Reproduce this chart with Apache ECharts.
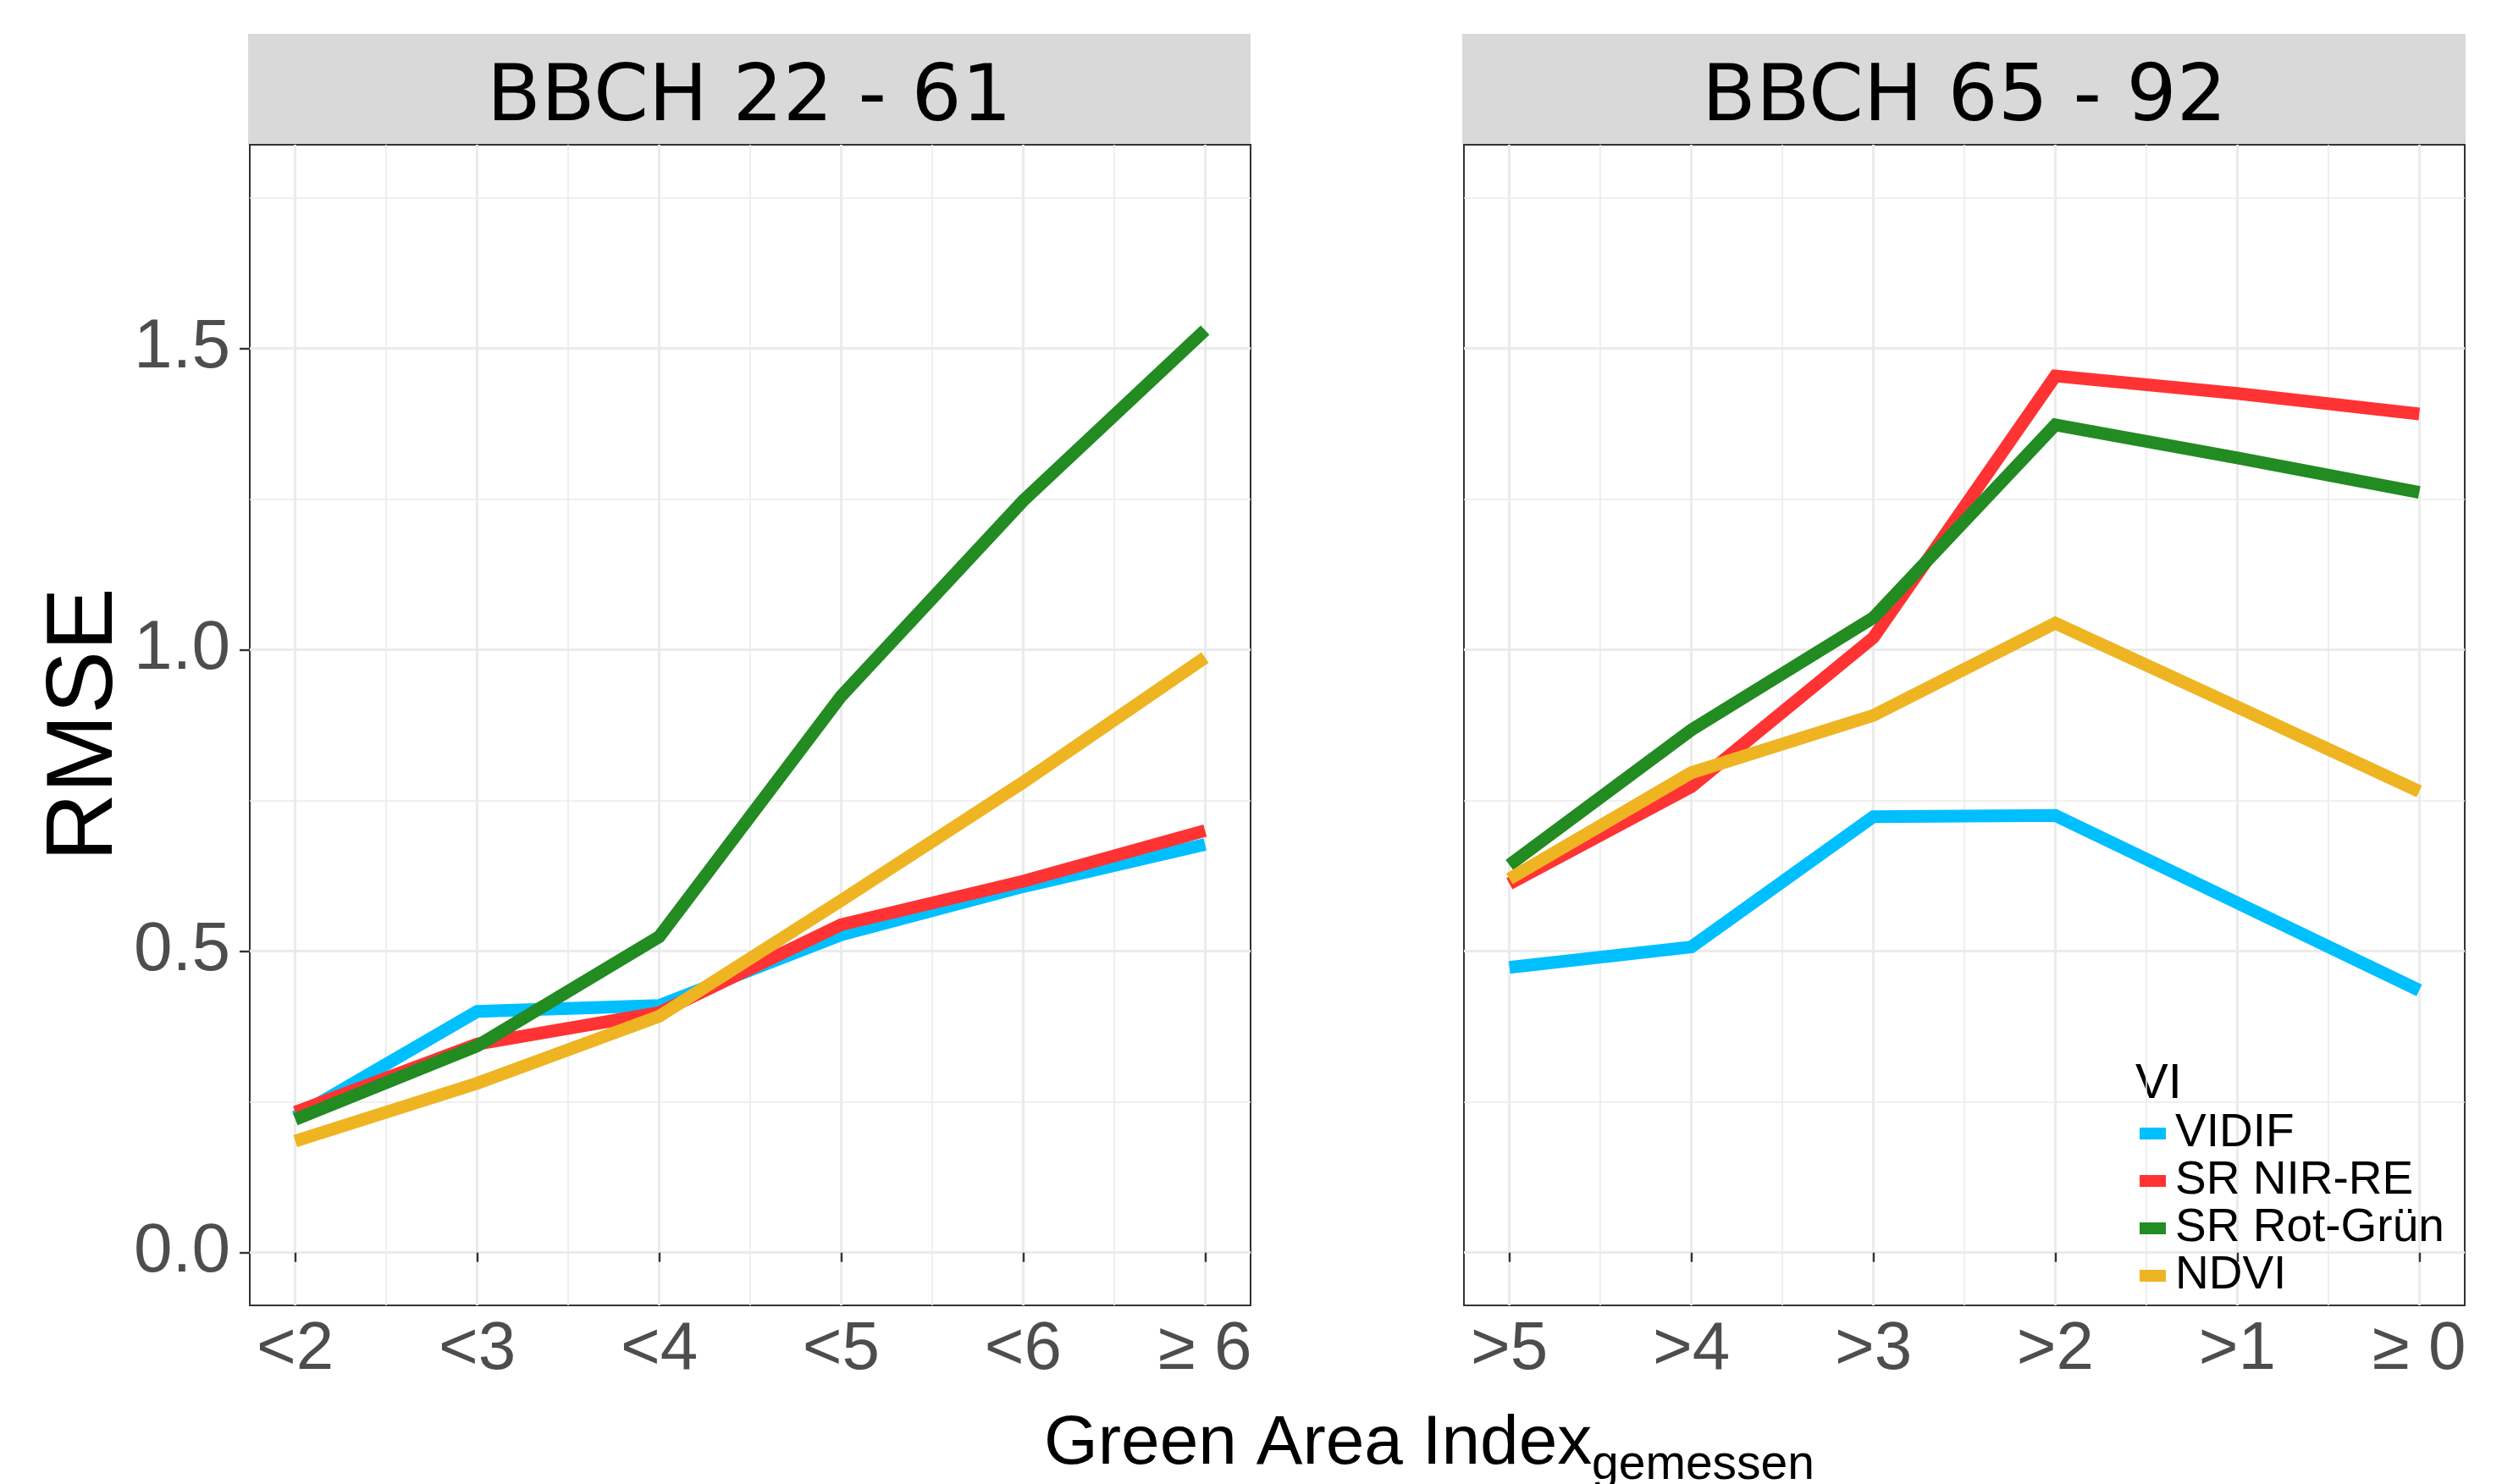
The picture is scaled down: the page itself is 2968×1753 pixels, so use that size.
<!DOCTYPE html>
<html>
<head>
<meta charset="utf-8">
<script src="https://cdn.jsdelivr.net/npm/echarts@6/dist/echarts.min.js"></script>
<style>
html,body{margin:0;padding:0;background:#fff;}
#chart{width:2968px;height:1753px;}
</style>
</head>
<body>
<div id="chart"></div>
<script>
// ---- data ----
const seriesNames = ['VIDIF', 'SR NIR-RE', 'SR Rot-Grün', 'NDVI'];
const seriesColors = ['#00BFFF', '#FF3333', '#228B22', '#EEB422'];
const panelTitles = ['BBCH 22 - 61', 'BBCH 65 - 92'];
const catsLeft = ['<2', '<3', '<4', '<5', '<6', '≥ 6'];
const catsRight = ['>5', '>4', '>3', '>2', '>1', '≥ 0'];

const leftVIDIF   = [0.225, 0.400, 0.410, 0.527, 0.607, 0.677];
const leftNIRRE   = [0.233, 0.346, 0.398, 0.544, 0.616, 0.700];
const leftRotGruen= [0.221, 0.343, 0.524, 0.923, 1.247, 1.530];
const leftNDVI    = [0.185, 0.281, 0.392, 0.584, 0.780, 0.987];

const rightVIDIF   = [0.473, 0.507, 0.723, 0.725, 0.580, 0.435];
const rightNIRRE   = [0.612, 0.773, 1.020, 1.454, 1.425, 1.391];
const rightRotGruen= [0.643, 0.867, 1.053, 1.373, 1.318, 1.261];
const rightNDVI    = [0.620, 0.796, 0.891, 1.044, 0.905, 0.765];

const yTicks = [0, 0.5, 1.0, 1.5];
const yMinor = [0.25, 0.75, 1.25, 1.75];
const xTicks = [1, 2, 3, 4, 5, 6];
const xMinor = [1.5, 2.5, 3.5, 4.5, 5.5];

// ---- build ----
const FONT = 'Liberation Sans, Arial, sans-serif';
const gridColor = '#EBEBEB';
const yMin = -0.0875, yMax = 1.8375;
const xMin = 0.75, xMax = 6.25;

function majorX(gridIndex, cats) {
  return {
    type: 'value', gridIndex, min: xMin, max: xMax, position: 'bottom',
    axisLine: { show: false },
    axisTick: { show: true, length: 11, customValues: xTicks, lineStyle: { color: '#333333', width: 2.4 } },
    axisLabel: { show: true, customValues: xTicks, margin: 13, fontSize: 80, fontFamily: FONT, color: '#4D4D4D',
      formatter: v => cats[Math.round(v) - 1] },
    splitLine: { show: true, lineStyle: { color: gridColor, width: 3 } }
  };
}
function minorX(gridIndex) {
  return {
    type: 'value', gridIndex, min: xMin, max: xMax, position: 'top',
    axisLine: { show: false },
    axisTick: { show: false, customValues: xMinor },
    axisLabel: { show: false, customValues: xMinor },
    splitLine: { show: true, lineStyle: { color: gridColor, width: 1.6 } }
  };
}
function majorY(gridIndex, showLabels) {
  return {
    type: 'value', gridIndex, min: yMin, max: yMax, position: 'left',
    axisLine: { show: false },
    axisTick: { show: showLabels, length: 12, customValues: yTicks, lineStyle: { color: '#333333', width: 2.4 } },
    axisLabel: { show: showLabels, customValues: yTicks, margin: 23, fontSize: 82, fontFamily: FONT, color: '#4D4D4D',
      formatter: v => v.toFixed(1) },
    splitLine: { show: true, lineStyle: { color: gridColor, width: 3 } }
  };
}
function minorY(gridIndex) {
  return {
    type: 'value', gridIndex, min: yMin, max: yMax, position: 'right',
    axisLine: { show: false },
    axisTick: { show: false, customValues: yMinor },
    axisLabel: { show: false, customValues: yMinor },
    splitLine: { show: true, lineStyle: { color: gridColor, width: 1.6 } }
  };
}

const leftData = [leftVIDIF, leftNIRRE, leftRotGruen, leftNDVI];
const rightData = [rightVIDIF, rightNIRRE, rightRotGruen, rightNDVI];

const series = [];
[[leftData, 0], [rightData, 1]].forEach(([arrs, gi]) => {
  arrs.forEach((vals, k) => {
    series.push({
      type: 'line', name: seriesNames[k], xAxisIndex: gi, yAxisIndex: gi,
      data: vals.map((v, i) => [xTicks[i], v]),
      showSymbol: false, symbol: 'none', smooth: false,
      lineStyle: { color: seriesColors[k], width: 15, cap: 'butt', join: 'miter' },
      itemStyle: { color: seriesColors[k] },
      z: 3 + k
    });
  });
});

const option = {
  backgroundColor: '#ffffff',
  animation: false,
  grid: [
    { left: 295, top: 171, width: 1182, height: 1371, show: true, borderColor: '#333333', borderWidth: 2, backgroundColor: 'transparent' },
    { left: 1729, top: 171, width: 1182, height: 1371, show: true, borderColor: '#333333', borderWidth: 2, backgroundColor: 'transparent' }
  ],
  xAxis: [majorX(0, catsLeft), majorX(1, catsRight), minorX(0), minorX(1)],
  yAxis: [majorY(0, true), majorY(1, false), minorY(0), minorY(1)],
  legend: {
    data: seriesNames, orient: 'vertical', left: 2527, top: 1311,
    itemWidth: 31, itemHeight: 14, itemGap: 0, icon: 'rect', padding: 0,
    textStyle: { fontSize: 55, fontFamily: FONT, color: '#000000', lineHeight: 56, padding: [0, 0, 0, 6] }
  },
  graphic: [
    { type: 'rect', shape: { x: 293, y: 40, width: 1184, height: 131 }, style: { fill: '#D9D9D9' }, z: -1 },
    { type: 'rect', shape: { x: 1727, y: 40, width: 1185, height: 131 }, style: { fill: '#D9D9D9' }, z: -1 },
    { type: 'text', x: 885, y: 118, style: { text: panelTitles[0], fontSize: 93, fontFamily: 'DejaVu Sans', fill: '#000', align: 'center', verticalAlign: 'middle' } },
    { type: 'text', x: 2320, y: 118, style: { text: panelTitles[1], fontSize: 93, fontFamily: 'DejaVu Sans', fill: '#000', align: 'center', verticalAlign: 'middle' } },
    { type: 'text', x: 101, y: 856, rotation: Math.PI / 2, style: { text: 'RMSE', fontSize: 112, fontFamily: FONT, fill: '#000', align: 'center', verticalAlign: 'middle' } },
    { type: 'text', x: 1233, y: 1706, style: { text: 'Green Area Index', fontSize: 82, fontFamily: FONT, fill: '#000', align: 'left', verticalAlign: 'middle' } },
    { type: 'text', x: 1880, y: 1731, style: { text: 'gemessen', fontSize: 57, fontFamily: FONT, fill: '#000', align: 'left', verticalAlign: 'middle' } },
    { type: 'text', x: 2522, y: 1281, style: { text: 'VI', fontSize: 58, fontFamily: FONT, fill: '#000', align: 'left', verticalAlign: 'middle' } }
  ],
  series
};

const chart = echarts.init(document.getElementById('chart'), null, { renderer: 'canvas', width: 2968, height: 1753 });
chart.setOption(option);
</script>
</body>
</html>
